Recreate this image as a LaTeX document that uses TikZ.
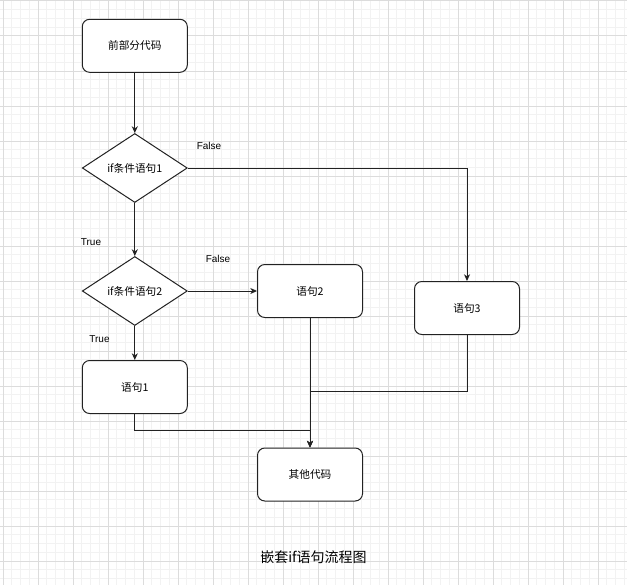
\documentclass[tikz,border=0pt]{standalone}
\usepackage{fontspec}
\setmainfont{Liberation Sans}
\newfontfamily\cjk{Noto Sans CJK SC}
\usetikzlibrary{shapes.geometric,arrows.meta}
\definecolor{gridminor}{HTML}{F2F2F2}
\definecolor{gridmajor}{HTML}{DCDCDC}
\definecolor{strokec}{HTML}{222222}
\begin{document}
\begin{tikzpicture}[x=0.75pt,y=-0.75pt,
  box/.style={draw=strokec, line width=0.75pt, rounded corners=5.5pt, minimum width=78.75pt, minimum height=39.75pt, inner sep=0pt, font=\cjk\fontsize{8}{10}\selectfont},
  dia/.style={draw=strokec, line width=0.75pt, diamond, shape aspect=1.5, minimum width=78.75pt, minimum height=51.75pt, inner sep=0pt, font=\cjk\fontsize{8}{10}\selectfont},
  lbl/.style={font=\fontsize{7.5}{9}\selectfont, inner sep=0pt},
  arr/.style={draw=strokec, line width=0.75pt, -{Stealth[length=5pt,width=4.5pt,inset=1.5pt]}},
  ln/.style={draw=strokec, line width=0.75pt},
  minorline/.style={draw=gridminor, line width=0.75pt},
  majorline/.style={draw=gridmajor, line width=0.75pt}
]
\useasboundingbox (0,0) rectangle (627,585);
\fill[white] (0,0) rectangle (627,585);
% grid
\foreach \k in {0,...,71} { \pgfmathsetmacro\xx{3+8.75*\k} \draw[minorline] (\xx,0) -- (\xx,585); }
\foreach \k in {0,...,66} { \pgfmathsetmacro\yy{1+8.75*\k} \draw[minorline] (0,\yy) -- (627,\yy); }
\foreach \k in {0,...,17} { \pgfmathsetmacro\xx{3+35*\k} \draw[majorline] (\xx,0) -- (\xx,585); }
\foreach \k in {0,...,16} { \pgfmathsetmacro\yy{1+35*\k} \draw[majorline] (0,\yy) -- (627,\yy); }

% nodes
\node[box, fill=white] (pre) at (134.8,45.8) {前部分代码};
\node[dia, fill=white] (d1) at (134.8,168) {if条件语句1};
\node[dia, fill=white] (d2) at (134.8,291) {if条件语句2};
\node[box, fill=white] (s1) at (134.8,387) {语句1};
\node[box, fill=white] (s2) at (310,291) {语句2};
\node[box, fill=white] (s3) at (467,308) {语句3};
\node[box, fill=white] (other) at (310,474.5) {其他代码};

% labels
\node[lbl] (f1) at (209,146) {False};
\node[lbl] (t1) at (91,242) {True};
\node[lbl] (f2) at (218,259) {False};
\node[lbl] (t2) at (99.5,339) {True};
\node[font=\cjk\fontsize{10.5}{12}\selectfont, inner sep=0pt] (cap) at (313.5,557) {嵌套if语句流程图};

% junctions
\coordinate (m3) at (310,391);
\coordinate (m1) at (310,430);

% connectors
\draw[arr] (pre) -- (d1);
\draw[arr] (d1.east) -| (s3.north);
\draw[arr] (d1) -- (d2);
\draw[arr] (d2.east) -- (s2.west);
\draw[arr] (d2) -- (s1);
\draw[arr] (s2.south) -- (other.north);
\draw[arr] (s3.south) |- (m3) -- (other.north);
\draw[arr] (s1.south) |- (m1) -- (other.north);
\end{tikzpicture}
\end{document}
